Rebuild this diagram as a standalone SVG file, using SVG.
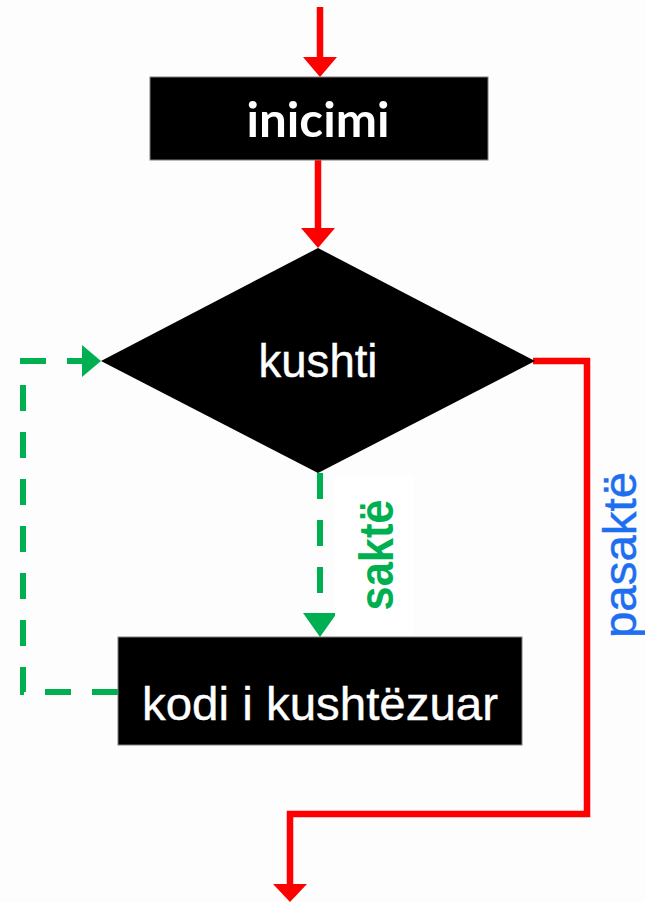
<svg xmlns="http://www.w3.org/2000/svg" width="645" height="902" viewBox="0 0 645 902">
  <style>
    .flow { fill: none; stroke: #ff0000; stroke-width: 6.5; }
    .redhead { fill: #ff0000; }
    .loop { fill: none; stroke: #00b050; stroke-width: 6; stroke-dasharray: 26 21; }
    .greenhead { fill: #00b050; }
    .node { fill: #000000; stroke: #7f7f7f; stroke-width: 1; }
    .label { fill: #ffffff; font-family: "Liberation Sans", Arial, sans-serif; text-anchor: middle; stroke: #ffffff; stroke-width: 0.4; }
  </style>

  <rect x="0" y="0" width="645" height="902" fill="#fdfdfd"/>

  <!-- connectors -->
  <g id="connectors">
    <!-- entry into start block -->
    <line x1="320" y1="7" x2="320" y2="58" class="flow"/>
    <path d="M303 57 L337 57 L320 77 Z" class="redhead"/>
    <!-- start block to condition -->
    <line x1="318" y1="160" x2="318" y2="230" class="flow"/>
    <path d="M301 228 L335 228 L318 248 Z" class="redhead"/>
    <!-- false branch -->
    <path d="M533 361 L587 361 L587 814 L290 814 L290 886" class="flow"/>
    <path d="M273 884 L307 884 L290 902 Z" class="redhead"/>
    <!-- true branch -->
    <line x1="320" y1="473" x2="320" y2="613" class="loop"/>
    <path d="M303 613 L337 613 L320 637 Z" class="greenhead"/>
    <!-- loop back to condition -->
    <path d="M118 692 L23 692 L23 361 L82 361" class="loop"/>
    <path d="M82 345 L82 377 L101 361 Z" class="greenhead"/>
    <!-- branch labels -->
    <rect x="335" y="475" width="78" height="161" fill="#ffffff"/>
    <text transform="translate(393 555) rotate(-90)" text-anchor="middle" font-family="'Liberation Sans', Arial, sans-serif" font-weight="bold" font-size="49" fill="#00b050" textLength="111" lengthAdjust="spacingAndGlyphs">saktë</text>
    <text transform="translate(636 555) rotate(-90)" text-anchor="middle" font-family="'Liberation Sans', Arial, sans-serif" font-size="47" fill="#1e6ff0" stroke="#1e6ff0" stroke-width="0.5" textLength="166" lengthAdjust="spacingAndGlyphs">pasaktë</text>
  </g>

  <g id="start">
    <rect x="150" y="77" width="338" height="83" class="node"/>
    <text x="318" y="137" class="label" style="font-family: Lato, 'Open Sans', sans-serif; stroke-width: 0" font-weight="bold" font-size="48" textLength="143" lengthAdjust="spacingAndGlyphs">inicimi</text>
  </g>

  <g id="condition">
    <polygon points="318,248 535,361 318,473 101,361" fill="#000000"/>
    <text x="318" y="377" class="label" font-size="46" textLength="119" lengthAdjust="spacingAndGlyphs">kushti</text>
  </g>

  <g id="body">
    <rect x="118" y="637" width="404" height="108" class="node"/>
    <text x="320" y="720" class="label" font-size="47" textLength="356" lengthAdjust="spacingAndGlyphs">kodi i kushtëzuar</text>
  </g>
</svg>
